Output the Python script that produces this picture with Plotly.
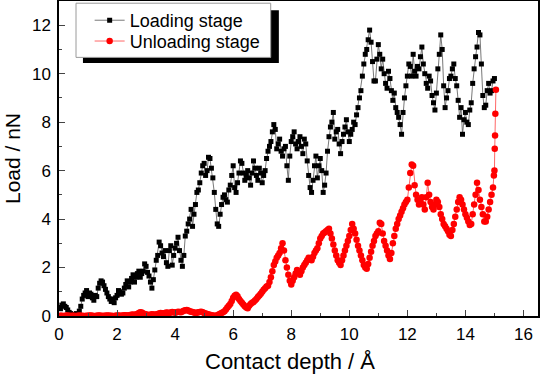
import plotly.graph_objects as go

# Contact depth sample positions (Å)
depth_x = [
    0.00, 0.05, 0.10, 0.15, 0.20, 0.25, 0.30, 0.35, 0.40, 0.45, 0.50, 0.55, 0.60, 0.65, 0.70, 0.75, 0.80, 0.85, 0.90, 0.95,
    1.00, 1.05, 1.10, 1.15, 1.20, 1.25, 1.30, 1.35, 1.40, 1.45, 1.50, 1.55, 1.60, 1.65, 1.70, 1.75, 1.80, 1.85, 1.90, 1.95,
    2.00, 2.05, 2.10, 2.15, 2.20, 2.25, 2.30, 2.35, 2.40, 2.45, 2.50, 2.55, 2.60, 2.65, 2.70, 2.75, 2.80, 2.85, 2.90, 2.95,
    3.00, 3.05, 3.10, 3.15, 3.20, 3.25, 3.30, 3.35, 3.40, 3.45, 3.50, 3.55, 3.60, 3.65, 3.70, 3.75, 3.80, 3.85, 3.90, 3.95,
    4.00, 4.05, 4.10, 4.15, 4.20, 4.25, 4.30, 4.35, 4.40, 4.45, 4.50, 4.55, 4.60, 4.65, 4.70, 4.75, 4.80, 4.85, 4.90, 4.95,
    5.00, 5.05, 5.10, 5.15, 5.20, 5.25, 5.30, 5.35, 5.40, 5.45, 5.50, 5.55, 5.60, 5.65, 5.70, 5.75, 5.80, 5.85, 5.90, 5.95,
    6.00, 6.05, 6.10, 6.15, 6.20, 6.25, 6.30, 6.35, 6.40, 6.45, 6.50, 6.55, 6.60, 6.65, 6.70, 6.75, 6.80, 6.85, 6.90, 6.95,
    7.00, 7.05, 7.10, 7.15, 7.20, 7.25, 7.30, 7.35, 7.40, 7.45, 7.50, 7.55, 7.60, 7.65, 7.70, 7.75, 7.80, 7.85, 7.90, 7.95,
    8.00, 8.05, 8.10, 8.15, 8.20, 8.25, 8.30, 8.35, 8.40, 8.45, 8.50, 8.55, 8.60, 8.65, 8.70, 8.75, 8.80, 8.85, 8.90, 8.95,
    9.00, 9.05, 9.10, 9.15, 9.20, 9.25, 9.30, 9.35, 9.40, 9.45, 9.50, 9.55, 9.60, 9.65, 9.70, 9.75, 9.80, 9.85, 9.90, 9.95,
    10.00, 10.05, 10.10, 10.15, 10.20, 10.25, 10.30, 10.35, 10.40, 10.45, 10.50, 10.55, 10.60, 10.65, 10.70, 10.75, 10.80, 10.85, 10.90, 10.95,
    11.00, 11.05, 11.10, 11.15, 11.20, 11.25, 11.30, 11.35, 11.40, 11.45, 11.50, 11.55, 11.60, 11.65, 11.70, 11.75, 11.80, 11.85, 11.90, 11.95,
    12.00, 12.05, 12.10, 12.15, 12.20, 12.25, 12.30, 12.35, 12.40, 12.45, 12.50, 12.55, 12.60, 12.65, 12.70, 12.75, 12.80, 12.85, 12.90, 12.95,
    13.00, 13.05, 13.10, 13.15, 13.20, 13.25, 13.30, 13.35, 13.40, 13.45, 13.50, 13.55, 13.60, 13.65, 13.70, 13.75, 13.80, 13.85, 13.90, 13.95,
    14.00, 14.05, 14.10, 14.15, 14.20, 14.25, 14.30, 14.35, 14.40, 14.45, 14.50, 14.55, 14.60, 14.65, 14.70, 14.75, 14.80, 14.85, 14.90, 14.95,
]

# Loading stage: load (nN)
load_x = depth_x + [15.00]
load_y = [
    0.35, 0.30, 0.45, 0.50, 0.40, 0.35, 0.25, 0.15, 0.10, 0.05, 0.05, 0.00, 0.10, 0.05, 0.20, 0.40, 0.70, 0.85, 0.95, 1.05,
    0.80, 0.95, 0.90, 0.75, 0.65, 0.85, 0.80, 1.15, 1.35, 1.45, 1.40, 1.25, 1.10, 0.95, 0.80, 0.70, 0.60, 0.70, 0.55, 0.75,
    0.85, 1.05, 1.00, 0.90, 0.95, 1.15, 1.30, 1.45, 1.20, 1.40, 1.55, 1.70, 1.40, 1.60, 1.75, 1.85, 1.60, 1.75, 1.85, 2.15,
    2.05, 1.80, 1.65, 1.40, 1.15, 1.50, 1.90, 2.30, 2.50, 3.05, 2.90, 2.60, 2.45, 2.70, 2.20, 2.05, 2.70, 2.90, 2.10, 2.50,
    2.80, 3.00, 3.25, 2.70, 2.30, 2.05, 2.50, 3.30, 3.50, 3.80, 4.00, 4.40, 3.70, 4.20, 4.60, 5.10, 5.20, 5.50, 5.90, 6.20,
    6.30, 5.80, 6.00, 6.55, 6.50, 6.10, 5.70, 5.10, 4.40, 3.80, 3.70, 4.20, 4.60, 4.90, 5.00, 4.80, 4.70, 5.20, 5.40, 5.80,
    6.20, 5.30, 5.10, 5.50, 5.90, 6.40, 6.30, 5.90, 5.60, 5.80, 6.00, 5.70, 5.40, 5.90, 6.40, 6.10, 5.80, 5.60, 6.10, 5.90,
    5.50, 5.80, 6.00, 6.50, 6.80, 7.00, 7.20, 7.60, 7.90, 7.70, 6.90, 7.10, 7.30, 6.80, 6.60, 6.90, 7.00, 6.20, 5.60, 6.60,
    7.20, 7.40, 7.60, 7.10, 6.90, 7.20, 7.40, 7.00, 6.70, 7.30, 7.10, 6.40, 5.80, 5.30, 5.10, 5.60, 6.20, 6.60, 5.70, 6.20,
    6.50, 6.00, 5.10, 5.40, 5.90, 6.80, 7.40, 7.80, 8.00, 8.40, 7.30, 7.60, 7.70, 7.10, 6.70, 7.20, 7.50, 7.80, 8.10, 7.60,
    7.20, 7.50, 7.70, 8.00, 7.90, 8.30, 8.60, 9.00, 9.30, 9.90, 10.40, 10.80, 11.00, 11.40, 11.80, 11.30, 10.50, 9.70, 9.70, 10.60,
    11.20, 10.80, 10.20, 10.60, 10.00, 9.60, 9.40, 10.10, 9.80, 9.30, 8.90, 9.20, 8.60, 8.40, 8.20, 7.90, 7.50, 8.40, 9.00, 9.50,
    9.90, 10.40, 10.30, 9.90, 10.80, 10.10, 9.90, 10.30, 10.20, 10.70, 11.10, 10.40, 10.00, 9.60, 9.40, 9.90, 9.70, 9.10, 8.80, 8.50,
    9.20, 10.20, 10.80, 11.60, 11.00, 9.50, 8.60, 9.00, 9.30, 9.80, 9.90, 10.20, 10.40, 9.80, 9.50, 8.90, 8.20, 8.60, 7.50, 8.10,
    8.40, 8.00, 7.90, 8.50, 8.80, 9.60, 10.20, 10.70, 11.10, 11.70, 11.60, 10.40, 9.10, 8.60, 8.70, 9.30, 9.60, 9.20, 9.30, 9.70,
    9.80,
]

# Unloading stage: load (nN)
unload_x = depth_x + [14.98, 15.00, 15.01, 15.02, 15.03, 15.05]
unload_y = [
    0.00, 0.01, 0.01, 0.00, 0.00, 0.02, 0.02, 0.01, 0.00, 0.01, 0.01, 0.00, 0.00, 0.01, 0.02, 0.01, 0.01, 0.00, 0.00, 0.01,
    0.01, 0.02, 0.02, 0.01, 0.00, 0.00, 0.01, 0.02, 0.02, 0.01, 0.00, 0.01, 0.01, 0.02, 0.02, 0.01, 0.01, 0.00, 0.00, 0.01,
    0.02, 0.02, 0.01, 0.01, 0.02, 0.03, 0.03, 0.02, 0.02, 0.04, 0.05, 0.06, 0.04, 0.06, 0.08, 0.12, 0.15, 0.14, 0.10, 0.08,
    0.06, 0.05, 0.04, 0.05, 0.07, 0.06, 0.05, 0.06, 0.08, 0.10, 0.12, 0.11, 0.10, 0.12, 0.14, 0.13, 0.12, 0.14, 0.16, 0.15,
    0.13, 0.15, 0.18, 0.17, 0.15, 0.19, 0.22, 0.24, 0.25, 0.23, 0.20, 0.18, 0.16, 0.14, 0.12, 0.13, 0.15, 0.17, 0.18, 0.15,
    0.12, 0.10, 0.08, 0.06, 0.05, 0.03, 0.02, 0.01, 0.00, 0.03, 0.06, 0.09, 0.12, 0.15, 0.20, 0.27, 0.35, 0.42, 0.50, 0.62,
    0.75, 0.84, 0.88, 0.82, 0.70, 0.62, 0.55, 0.47, 0.40, 0.35, 0.32, 0.42, 0.50, 0.55, 0.58, 0.64, 0.70, 0.78, 0.85, 0.92,
    1.00, 1.08, 1.15, 1.22, 1.25, 1.40, 1.60, 1.85, 2.10, 2.25, 2.40, 2.50, 2.60, 2.80, 3.00, 2.70, 2.30, 2.00, 1.70, 1.45,
    1.30, 1.45, 1.60, 1.75, 1.90, 1.80, 1.70, 1.85, 2.00, 2.10, 2.20, 2.30, 2.40, 2.35, 2.30, 2.45, 2.60, 2.70, 2.80, 3.00,
    3.20, 3.30, 3.40, 3.45, 3.50, 3.55, 3.60, 3.40, 3.20, 2.95, 2.70, 2.50, 2.30, 2.20, 2.10, 2.30, 2.50, 2.70, 2.90, 3.10,
    3.30, 3.55, 3.80, 3.60, 3.40, 3.15, 2.90, 2.70, 2.50, 2.30, 2.10, 2.00, 1.95, 2.15, 2.40, 2.65, 2.90, 3.10, 3.30, 3.40,
    3.50, 3.85, 3.80, 3.40, 3.10, 2.90, 2.70, 2.50, 2.35, 2.60, 3.00, 3.30, 3.60, 3.80, 4.00, 4.15, 4.30, 4.45, 4.60, 4.70,
    4.80, 5.30, 5.90, 6.25, 6.20, 5.40, 5.00, 4.80, 4.60, 4.75, 4.90, 4.60, 4.40, 4.90, 5.50, 5.00, 4.70, 4.50, 4.40, 4.60,
    4.80, 4.70, 4.50, 4.20, 4.00, 3.80, 3.70, 3.60, 3.50, 3.35, 3.30, 3.55, 3.80, 4.10, 4.40, 4.70, 4.90, 4.80, 4.60, 4.40,
    4.20, 4.05, 3.90, 3.76, 3.80, 4.20, 4.60, 5.00, 5.50, 5.20, 4.80, 4.50, 4.20, 3.90, 3.90, 4.10, 4.40, 4.70, 5.00, 5.30,
    5.80, 6.00, 6.90, 7.45, 8.35, 9.34,
]

x_ticks = [0, 2, 4, 6, 8, 10, 12, 14, 16]
y_ticks = [0, 2, 4, 6, 8, 10, 12]
x_title = "Contact depth / Å"
y_title = "Load / nN"

FONT = "Arial, Liberation Sans, sans-serif"

fig = go.Figure()
fig.add_trace(go.Scatter(
    x=load_x, y=load_y, mode="lines+markers", name="Loading stage", legend="legend",
    line=dict(color="#555555", width=0.8),
    marker=dict(symbol="square", size=5, color="black", line=dict(width=0)),
))
fig.add_trace(go.Scatter(
    x=unload_x, y=unload_y, mode="lines+markers", name="Unloading stage", legend="legend2",
    line=dict(color="#ff4040", width=0.8),
    marker=dict(symbol="circle", size=6.5, color="red", line=dict(width=0)),
))

# legend frame with drop shadow
fig.add_shape(type="rect", xref="paper", yref="paper", x0=0.050, x1=0.459, y0=0.803, y1=0.971,
              fillcolor="black", line=dict(width=0), layer="above")
fig.add_shape(type="rect", xref="paper", yref="paper", x0=0.0355, x1=0.442, y0=0.821, y1=0.993,
              fillcolor="white", line=dict(color="#9a9a9a", width=1), layer="above")

# axis titles
fig.add_annotation(text=x_title, xref="paper", yref="paper", x=0.482, y=-0.146,
                   xanchor="center", yanchor="middle", showarrow=False,
                   font=dict(size=22, family=FONT, color="black"))
fig.add_annotation(text=y_title, xref="paper", yref="paper", x=-0.097, y=0.5,
                   xanchor="center", yanchor="middle", showarrow=False, textangle=-90,
                   font=dict(size=21, family=FONT, color="black"))

legend_common = dict(xanchor="left", yanchor="middle", bgcolor="rgba(0,0,0,0)", borderwidth=0,
                     font=dict(size=18, family=FONT, color="black"))

fig.update_layout(
    width=540, height=374,
    margin=dict(l=59, r=2, t=1, b=58),
    paper_bgcolor="white", plot_bgcolor="white",
    font=dict(family=FONT, color="black", size=17),
    showlegend=True,
    legend=dict(x=0.064, y=0.938, **legend_common),
    legend2=dict(x=0.064, y=0.872, **legend_common),
    xaxis=dict(range=[0, 16.5], tickvals=x_ticks, ticks="inside", ticklen=6, tickwidth=1.2,
               showline=True, linecolor="black", linewidth=1.5, mirror=True,
               showgrid=False, zeroline=False, automargin=False, ticklabelstandoff=2,
               minor=dict(ticks="inside", ticklen=3, dtick=1, tick0=0, showgrid=False),
               tickfont=dict(size=17)),
    yaxis=dict(range=[0, 13], tickvals=y_ticks, ticks="inside", ticklen=6, tickwidth=1.2,
               showline=True, linecolor="black", linewidth=1.5, mirror=True,
               showgrid=False, zeroline=False, automargin=False, ticklabelstandoff=3,
               minor=dict(ticks="inside", ticklen=3, dtick=1, tick0=0, showgrid=False),
               tickfont=dict(size=17)),
)

fig.write_html(
    "out.html",
    config={"displayModeBar": False},
    post_script="document.body.style.margin='0';document.body.style.padding='0';document.body.style.overflow='hidden';",
)
